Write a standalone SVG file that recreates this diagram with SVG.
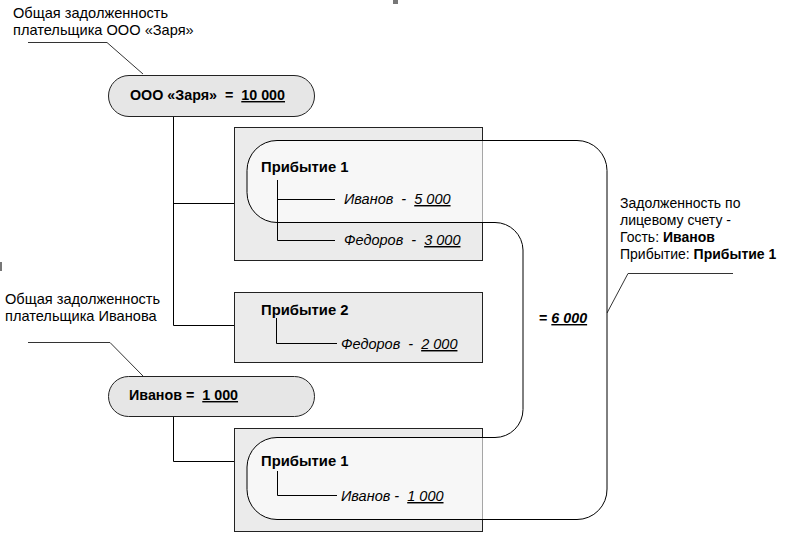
<svg xmlns="http://www.w3.org/2000/svg" width="789" height="533" viewBox="0 0 789 533">
<style>
text{font-family:"Liberation Sans",Arial,sans-serif;fill:#000}
.lbl{font-size:14.6px}
.rl{font-size:14px}
.b{font-weight:bold}
.t{font-size:14.3px;font-weight:bold}
.tt{font-size:14.8px;font-weight:bold}
.it{font-size:14.5px;font-style:italic}
.u{text-decoration:underline}
.box{fill:#ebebeb;stroke:#222;stroke-width:1}
.pill{fill:#e6e6e6;stroke:#222;stroke-width:1}
.ln{fill:none;stroke:#000;stroke-width:1}
.ptr{fill:none;stroke:#333;stroke-width:1}
</style>
<rect width="789" height="533" fill="#fff"/>
<g id="artifacts" fill="#777">
<rect x="393" y="0" width="5" height="4"/>
<rect x="0" y="262" width="2" height="9"/>
<rect x="394" y="527" width="5" height="4"/>
</g>
<g id="connectors">
<path class="ln" d="M173.5 117 V325.5 H235 M173.5 203.5 H235"/>
<path class="ln" d="M173.5 417 V461.5 H235"/>
<path class="ptr" d="M28 42.5 H107 L143 74"/>
<path class="ptr" d="M28 342.5 H110 L143 376"/>
<path class="ptr" d="M733 273.5 H628 L607 313"/>
</g>
<g id="pill-zarya">
<rect class="pill" x="108.5" y="75.5" width="206" height="41" rx="20.5"/>
<text x="130" y="100" class="t" xml:space="preserve">ООО «Заря»  =  <tspan class="u">10 000</tspan></text>
</g>
<g id="pill-ivanov">
<rect class="pill" x="108.5" y="376.5" width="206" height="40" rx="20"/>
<text x="129" y="400" class="t" xml:space="preserve">Иванов =  <tspan class="u">1 000</tspan></text>
</g>
<g id="box-arrival1">
<rect class="box" x="234.5" y="127.5" width="248" height="133"/>
</g>
<g id="box-arrival2">
<rect class="box" x="234.5" y="292.5" width="248" height="70"/>
</g>
<g id="box-arrival1b">
<rect class="box" x="234.5" y="428.5" width="248" height="103"/>
</g>
<g id="group-ivanov">
<path d="M277 140.5 H577 A30 30 0 0 1 607 170.5 V489 A30 30 0 0 1 577 519.5 H277 A30 30 0 0 1 247 489.5 V467 A30 30 0 0 1 277 437.5 H495 A28 28 0 0 0 523 409.5 V250 A28 28 0 0 0 495 222.5 H277 A30 30 0 0 1 247 192.5 V170.5 A30 30 0 0 1 277 140.5 Z" fill="#fff" fill-opacity="0.6" stroke="#000" stroke-width="1"/>
<text x="539" y="323" class="t" xml:space="preserve">= <tspan class="u" font-style="italic">6 000</tspan></text>
</g>
<g id="box-arrival1-content">
<text x="261" y="172" class="tt">Прибытие 1</text>
<path class="ln" d="M277.5 180 V240.5 H335 M277.5 199.5 H335"/>
<text x="344" y="204" class="it" xml:space="preserve">Иванов  -  <tspan class="u">5 000</tspan></text>
<text x="344" y="245" class="it" xml:space="preserve">Федоров  -  <tspan class="u">3 000</tspan></text>
</g>
<g id="box-arrival2-content">
<text x="261" y="315" class="tt">Прибытие 2</text>
<path class="ln" d="M276.5 318 V343.5 H337"/>
<text x="341" y="349" class="it" xml:space="preserve">Федоров  -  <tspan class="u">2 000</tspan></text>
</g>
<g id="box-arrival1b-content">
<text x="261" y="466" class="tt">Прибытие 1</text>
<path class="ln" d="M277.5 471 V495.5 H337"/>
<text x="341" y="501" class="it" xml:space="preserve">Иванов -  <tspan class="u">1 000</tspan></text>
</g>
<g id="labels">
<text class="lbl" x="13" y="18">Общая задолженность</text>
<text class="lbl" x="13" y="35">плательщика ООО «Заря»</text>
<text class="lbl" x="5" y="304">Общая задолженность</text>
<text class="lbl" x="5" y="321">плательщика Иванова</text>
<text class="rl" x="620" y="208">Задолженность по</text>
<text class="rl" x="620" y="225">лицевому счету -</text>
<text class="rl" x="620" y="242">Гость: <tspan class="b">Иванов</tspan></text>
<text class="rl" x="620" y="259">Прибытие: <tspan class="b">Прибытие 1</tspan></text>
</g>
</svg>
